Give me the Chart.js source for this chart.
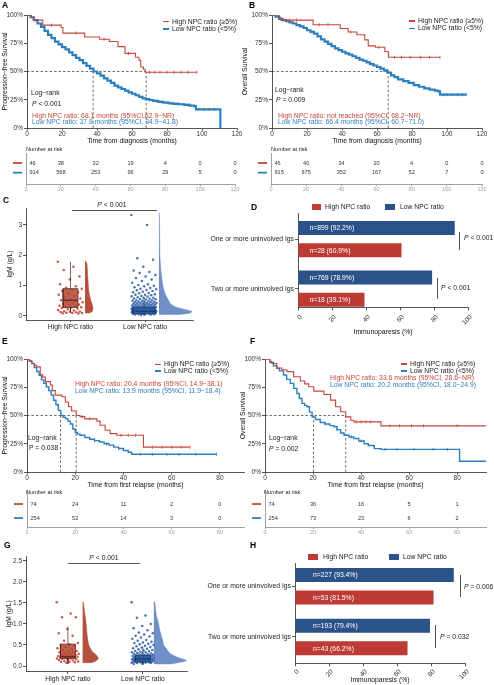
<!DOCTYPE html>
<html><head><meta charset="utf-8">
<script src="https://cdn.jsdelivr.net/npm/chart.js@4.4.1/dist/chart.umd.min.js"></script>
<style>
html,body{margin:0;padding:0;background:#fff;}
#wrap{position:relative;width:494px;height:685px;overflow:hidden;background:#fff;font-family:"Liberation Sans",Arial,Helvetica,sans-serif;}
#wrap canvas{position:absolute;left:0;top:0;}
.t{position:absolute;white-space:nowrap;line-height:1;transform:translateY(-50%);font-size:6.8px;color:#1a1a1a;z-index:5;}
.mk{position:absolute;z-index:5;}
</style></head><body><div id="wrap"></div>
<script>
// ================= DATA =================
// Panel A: PFS from diagnosis (time in months, survival fraction)
const kmA_high_t = [0, 2.5, 3.5, 9, 19.5, 20.5, 33, 41.5, 47, 52, 56, 62, 64, 65, 66.5, 67.5, 97];
const kmA_high_s = [1, 0.978, 0.955, 0.91, 0.89, 0.84, 0.805, 0.786, 0.766, 0.72, 0.66, 0.626, 0.60, 0.54, 0.52, 0.493, 0.493];
const kmA_high_cens = [14, 28, 44, 58, 70, 73, 76, 80, 84, 88, 92, 97];
const kmA_low_t = [0,2,4,6,8,10,12,14,16,18,20,22,24,26,28,30,32,34,36,38,40,42,44,46,48,50,52,54,56,58,60,62,64,66,68,70,72,75,78,81,84,87,90,93,95.5,96.5,110.5];
const kmA_low_s = [1,.98,.955,.925,.895,.86,.825,.795,.765,.74,.715,.695,.67,.645,.62,.60,.575,.55,.525,.50,.483,.463,.44,.42,.40,.375,.36,.345,.33,.315,.303,.29,.275,.263,.255,.248,.24,.232,.225,.218,.214,.21,.205,.198,.193,.165,0];
const kmA_low_cens = [70, 74, 77, 80, 83, 86, 89, 92, 98, 101, 104, 107];
const medA = [68.1, 37.8];
const riskA_high = [46, 38, 32, 19, 4, 0, 0];
const riskA_low = [914, 568, 253, 96, 29, 5, 0];

// Panel B: OS from diagnosis
const kmB_high_t = [0, 4, 5, 23.5, 39, 43.5, 48.5, 53, 55, 59, 64.5, 66.5, 96];
const kmB_high_s = [1, 0.98, 0.955, 0.914, 0.88, 0.85, 0.825, 0.78, 0.727, 0.715, 0.677, 0.626, 0.626];
const kmB_high_cens = [10, 14, 27, 32, 45, 61, 70, 74, 79, 85, 90, 96];
const kmB_low_t = [0,2,4,6,8,10,12,14,16,18,20,22,24,26,28,30,32,34,36,38,40,42,44,46,48,50,52,54,56,58,60,62,64,66,68,70,72,75,78,81,84,87,90,93,95,96,111];
const kmB_low_s = [1,.985,.965,.955,.945,.935,.925,.91,.90,.885,.865,.85,.835,.81,.785,.765,.745,.725,.705,.69,.675,.66,.65,.635,.62,.605,.595,.58,.565,.553,.54,.525,.51,.49,.465,.45,.43,.415,.40,.38,.365,.35,.34,.33,.325,.295,.295];
const kmB_low_cens = [98, 100, 103, 106, 109, 111];
const medB = [null, 66.4];
const riskB_high = [46, 40, 34, 20, 4, 0, 0];
const riskB_low = [915, 675, 352, 167, 52, 7, 0];

// Panel E: PFS from first relapse
const kmE_high_t = [0, 1, 2, 3, 4, 5.5, 6.5, 7.6, 9.7, 10.5, 11.7, 14.5, 15.9, 17.2, 18.5, 20.4, 22, 24, 29, 30.3, 32.4, 34.5, 37.2, 48.3, 67.6];
const kmE_high_s = [1, 0.985, 0.96, 0.945, 0.93, 0.86, 0.84, 0.80, 0.77, 0.72, 0.68, 0.666, 0.62, 0.577, 0.54, 0.50, 0.49, 0.47, 0.45, 0.414, 0.37, 0.34, 0.325, 0.22, 0.22];
const kmE_high_cens = [23, 26, 39, 42, 45, 52, 56, 60, 64, 67.6];
const kmE_low_t = [0,1,2,3,4,5,6,7,8,9,10,11,12,13,14,15,16,17,18,19,20,21,22,24,26,28,30,32,34,36,38,40,42,43.4,78.6];
const kmE_low_s = [1,.98,.96,.925,.89,.855,.815,.785,.755,.72,.68,.635,.595,.545,.50,.485,.47,.45,.425,.38,.35,.335,.325,.305,.29,.278,.265,.25,.238,.22,.208,.19,.175,.157,.157];
const kmE_low_cens = [28, 33, 38, 47, 52, 58, 63, 70, 78.6];
const medE = [20.4, 13.9];
const riskE_high = [74, 24, 11, 2, 0];
const riskE_low = [254, 52, 14, 3, 0];

// Panel F: OS from first relapse
const kmF_high_t = [0, 2, 2.8, 4.9, 7, 9.1, 11.9, 14.7, 16.5, 18.2, 20.3, 24.5, 27.3, 29.4, 31.5, 33.6, 35.7, 37, 48.3, 92];
const kmF_high_s = [1, 0.98, 0.96, 0.92, 0.905, 0.888, 0.843, 0.805, 0.78, 0.754, 0.716, 0.686, 0.636, 0.577, 0.533, 0.488, 0.458, 0.444, 0.408, 0.408];
const kmF_high_cens = [38, 40, 42, 44, 52, 56, 61, 66, 80];
const kmF_low_t = [0, 2, 3.5, 4.9, 6, 7.7, 9, 10.5, 12, 13.3, 14.3, 15.4, 16.5, 17.5, 18.5, 19.6, 21, 23, 25, 27, 28.7, 30, 31.5, 32.9, 35, 37, 39, 41.3, 43, 45.5, 48.3, 81, 92];
const kmF_low_s = [1, .97, .94, .917, .895, .858, .82, .784, .74, .695, .65, .607, .59, .577, .53, .488, .465, .438, .425, .41, .40, .375, .345, .325, .31, .296, .275, .25, .235, .207, .20, .095, .095];
const kmF_low_cens = [25, 30, 36, 40, 50, 55, 62, 70, 76];
const medF = [33.6, 20.2];
const riskF_high = [74, 36, 16, 5, 1];
const riskF_low = [254, 73, 23, 6, 2];

const kmYTicks = [0, 0.25, 0.5, 0.75, 1];
const ticksDiag = [0, 20, 40, 60, 80, 100, 120];
const ticksRel = [0, 20, 40, 60, 80];

// Panels C and G: IgM (g/L) per patient (subset), box stats [wlo,q1,med,q3,whi], density profile
const groupNames = ['High NPC ratio', 'Low NPC ratio'];
const cHigh = [1.79,1.62,1.52,1.3,1.2,1.05,0.98,0.93,0.9,0.86,0.82,0.78,0.74,0.7,0.66,0.62,0.58,0.55,0.52,0.5,0.48,0.45,0.42,0.4,0.38,0.36,0.34,0.32,0.3,0.29,0.28,0.26,0.24,0.22,0.2,0.18,0.16,0.15,0.14,0.13,0.12,0.11,0.1,0.1,0.09,0.08];
const cLow = [3.33,3.0,1.9,1.85,1.62,1.5,1.45,1.42,1.35,1.3,1.25,1.2,1.15,1.1,1.05,1.02,1.0,0.98,0.95,0.92,0.9,0.88,0.86,0.85,0.82,0.8,0.78,0.76,0.75,0.72,0.7,0.7,0.68,0.66,0.65,0.64,0.62,0.6,0.6,0.58,0.57,0.56,0.55,0.54,0.52,0.52,0.5,0.5,0.49,0.48,0.47,0.46,0.45,0.45,0.44,0.43,0.42,0.42,0.41,0.4,0.4,0.39,0.38,0.38,0.37,0.36,0.36,0.35,0.35,0.34,0.33,0.33,0.32,0.32,0.31,0.3,0.3,0.3,0.29,0.29,0.28,0.28,0.27,0.27,0.26,0.26,0.25,0.25,0.25,0.24,0.24,0.23,0.23,0.22,0.22,0.22,0.21,0.21,0.2,0.2,0.2,0.19,0.19,0.19,0.18,0.18,0.18,0.17,0.17,0.17,0.16,0.16,0.16,0.15,0.15,0.15,0.15,0.14,0.14,0.14,0.13,0.13,0.13,0.12,0.12,0.12,0.11,0.11,0.11,0.1,0.1,0.1,0.09,0.09,0.08,0.08,0.07,0.07,0.06,0.06,0.05,0.05,0.04,0.03];
const cHighBox = [0.1, 0.28, 0.52, 0.9, 1.79];
const cLowBox = [0.02, 0.08, 0.16, 0.28, 0.6];
const cHighVy = [0.1,0.15,0.25,0.35,0.5,0.7,0.9,1.1,1.3,1.5,1.7,1.8];
const cHighVw = [0.55,0.9,1,0.95,0.75,0.55,0.45,0.4,0.35,0.3,0.25,0.12];
const cLowVy = [0.05,0.1,0.15,0.2,0.3,0.4,0.5,0.7,1.0,1.5,2.0,3.0,3.4];
const cLowVw = [0.6,0.95,1,0.85,0.5,0.35,0.3,0.2,0.12,0.06,0.03,0.02,0.01];
const cYTicks = [0, 1, 2, 3];

const gHigh = [1.52,1.25,1.16,1.16,0.88,0.78,0.72,0.6,0.55,0.52,0.5,0.48,0.45,0.42,0.4,0.38,0.36,0.35,0.33,0.32,0.3,0.29,0.28,0.27,0.26,0.25,0.24,0.23,0.22,0.22,0.21,0.2,0.2,0.19,0.18,0.18,0.17,0.16,0.15,0.14,0.13,0.12,0.11,0.1,0.1,0.09,0.08];
const gLow = [1.52,1.2,1.15,1.0,0.95,0.9,0.85,0.8,0.78,0.75,0.72,0.7,0.68,0.65,0.62,0.6,0.58,0.56,0.55,0.53,0.52,0.5,0.48,0.47,0.45,0.44,0.42,0.41,0.4,0.38,0.37,0.36,0.35,0.34,0.33,0.32,0.31,0.3,0.3,0.29,0.28,0.28,0.27,0.26,0.26,0.25,0.25,0.24,0.24,0.23,0.23,0.22,0.22,0.21,0.21,0.2,0.2,0.2,0.19,0.19,0.18,0.18,0.18,0.17,0.17,0.17,0.16,0.16,0.16,0.15,0.15,0.15,0.14,0.14,0.14,0.13,0.13,0.13,0.12,0.12,0.12,0.11,0.11,0.11,0.1,0.1,0.1,0.09,0.09,0.08,0.08,0.07,0.07,0.06,0.05];
const gHighBox = [0.05, 0.18, 0.22, 0.52, 0.94];
const gLowBox = [0.03, 0.1, 0.17, 0.25, 0.45];
const gHighVy = [0.08,0.12,0.18,0.25,0.35,0.5,0.7,0.9,1.1,1.3,1.52];
const gHighVw = [0.55,0.85,1,0.9,0.6,0.4,0.3,0.25,0.2,0.12,0.05];
const gLowVy = [0.05,0.1,0.13,0.2,0.3,0.4,0.5,0.6,0.8,1.0,1.2,1.52];
const gLowVw = [0.5,0.9,1,0.75,0.5,0.4,0.3,0.28,0.2,0.15,0.08,0.03];
const gYTicks = [0, 0.5, 1, 1.5, 2, 2.5];

// Panels D and H: immunoparesis (%)
const barCats = ['One or more uninvolved Igs', 'Two or more uninvolved Igs'];
const barD_low = [92.2, 78.9];
const barD_high = [60.9, 39.1];
const barD_lowN = ['n=899 (92.2%)', 'n=769 (78.9%)'];
const barD_highN = ['n=28 (60.9%)', 'n=18 (39.1%)'];
const barH_low = [93.4, 79.4];
const barH_high = [81.5, 66.2];
const barH_lowN = ['n=227 (93.4%)', 'n=193 (79.4%)'];
const barH_highN = ['n=53 (81.5%)', 'n=43 (66.2%)'];
const pctTicks = [0, 20, 40, 60, 80, 100];

// ================= RENDER =================
const FONT = '"Liberation Sans", Arial, Helvetica, sans-serif';
const RED = '#C8453B', BLUE = '#2D7FBF', AX = '#2b2b2b';
const NAVY = '#2C5389', BRED = '#BE3A35';
Chart.defaults.font.family = FONT;
Chart.defaults.font.size = 6.8;
Chart.defaults.color = '#222';
Chart.defaults.animation = false;
Chart.defaults.responsive = false;
Chart.defaults.events = [];
Chart.defaults.plugins.legend.display = false;
Chart.defaults.plugins.tooltip.enabled = false;

const wrap = document.getElementById('wrap');
function mk(){ const c=document.createElement('canvas'); c.width=494; c.height=685; wrap.appendChild(c); return c; }
function pad(L,T,R,B,yw,xh){ return {left:L-yw, top:T, right:494-R, bottom:685-B-xh}; }
function deep(a,b){ for(const k in b){ const v=b[k]; if(v && typeof v==='object' && !Array.isArray(v) && a[k] && typeof a[k]==='object') deep(a[k],v); else a[k]=v; } return a; }
function ax(min,max,tv,fmt,sz,isX,title,extra){
  const a={type:'linear',min:min,max:max,offset:false,
    afterBuildTicks:s=>{ s.ticks=tv.map(v=>({value:v})); },
    afterFit:s=>{ if(isX) s.height=sz; else s.width=sz; },
    grid:{display:true,offset:false,drawOnChartArea:false,drawTicks:true,tickLength:3,color:AX,lineWidth:0.8},
    border:{display:true,color:AX,width:0.8},
    ticks:{font:{size:6.5,family:FONT},color:'#333',padding:1,maxRotation:0,minRotation:0,autoSkip:false,callback:fmt||(v=>String(v))},
    title:{display:!!title,text:title||'',font:{size:6.8,family:FONT},color:'#111',padding:{top:0,bottom:0}}
  };
  return deep(a,extra||{});
}
const pts=(t,s)=>t.map((v,i)=>({x:v,y:s[i]}));
function survAt(t,s,x){ let y=s[0]; for(let i=0;i<t.length;i++){ if(t[i]<=x) y=s[i]; } return y; }

function km(c){
  const cv=mk(); const ds=[];
  const censDs=(g,col)=>({data:g.cens.map(x=>({x:x,y:survAt(g.t,g.s,x)})),showLine:false,pointStyle:'line',rotation:90,pointRadius:1.6,pointBorderWidth:0.8,pointBorderColor:col,borderColor:col,backgroundColor:col,clip:false});
  ds.push(censDs(c.high,RED)); ds.push(censDs(c.low,BLUE));
  ds.push({data:pts(c.high.t,c.high.s),showLine:true,stepped:'before',borderColor:RED,borderWidth:1.1,pointRadius:0,fill:false});
  ds.push({data:pts(c.low.t,c.low.s),showLine:true,stepped:'before',borderColor:BLUE,borderWidth:c.lw,pointRadius:0,fill:false});
  const meds=c.med.filter(m=>m!=null); const mx=Math.max.apply(null,meds);
  const dash=()=>({showLine:true,borderColor:'#333',borderWidth:0.7,borderDash:[2.5,2],pointRadius:0,fill:false});
  ds.push(Object.assign(dash(),{data:[{x:0,y:0.5},{x:mx,y:0.5}]}));
  meds.forEach(m=>ds.push(Object.assign(dash(),{data:[{x:m,y:0.5},{x:m,y:0}]})));
  new Chart(cv,{type:'scatter',data:{datasets:ds},options:{
    layout:{padding:pad(c.L,c.T,c.R,c.B,c.yw,c.xh)},
    scales:{
      x:ax(0,c.xmax,c.xticks,null,c.xh,true,c.xtitle,{grid:{tickLength:2.5},ticks:{padding:0}}),
      y:ax(0,1,kmYTicks,v=>Math.round(v*100)+'%',c.yw,false,c.ytitle)
    }}});
}

const riskPlugin={id:'risk',afterDraw(chart,a,o){
  const ctx=chart.ctx, xs=chart.scales.x, ys=chart.scales.y;
  ctx.save(); ctx.font='5.6px '+FONT; ctx.textBaseline='middle';
  o.rows.forEach((row,r)=>{
    const y=ys.getPixelForValue(r+1);
    ctx.fillStyle='#333';
    row.forEach((v,i)=>{ const x=xs.getPixelForValue(o.times[i]);
      if(i===0){ ctx.textAlign='left'; ctx.fillText(String(v),x+3.5,y); } else { ctx.textAlign='center'; ctx.fillText(String(v),x,y); } });
    ctx.strokeStyle=o.colors[r]; ctx.lineWidth=1.8; ctx.beginPath();
    ctx.moveTo(chart.chartArea.left-13,y); ctx.lineTo(chart.chartArea.left-4,y); ctx.stroke();
  });
  ctx.restore();
}};
function risk(c){
  const cv=mk();
  new Chart(cv,{type:'scatter',data:{datasets:[]},plugins:[riskPlugin],options:{
    layout:{padding:pad(c.L,c.T,c.R,c.B,0,c.xh)},
    scales:{
      x:ax(0,c.xmax,c.xticks,null,c.xh,true,null,{grid:{color:'#8a8a8a',tickLength:2},border:{color:'#8a8a8a'},ticks:{color:'#a0a0a0',font:{size:5.5},padding:0}}),
      y:{type:'linear',min:0,max:c.ymax,reverse:true,afterFit:s=>{s.width=0;},ticks:{display:false},grid:{display:false,drawTicks:false},border:{display:true,color:'#8a8a8a',width:0.8}}
    },
    plugins:{risk:{rows:[c.high,c.low],times:c.xticks,colors:[RED,BLUE]}}
  }});
}

function rain(c){
  const cv=mk(); const top=[], mid=[], bot=[];
  c.groups.forEach((g,gi)=>{
    const cx=gi+1+(g.dx||0); const b=g.box; const hw=g.bw;
    top.push({data:[{x:cx-hw,y:b[2]},{x:cx+hw,y:b[2]}],showLine:true,borderColor:g.line,borderWidth:1,pointRadius:0});
    top.push({data:[{x:cx,y:b[3]},{x:cx,y:b[4]}],showLine:true,borderColor:g.line,borderWidth:0.7,pointRadius:0});
    top.push({data:[{x:cx,y:b[1]},{x:cx,y:b[0]}],showLine:true,borderColor:g.line,borderWidth:0.7,pointRadius:0});
    const rect=[{x:cx-hw,y:b[1]},{x:cx+hw,y:b[1]},{x:cx+hw,y:b[3]},{x:cx-hw,y:b[3]},{x:cx-hw,y:b[1]}];
    top.push({data:rect,showLine:true,borderColor:g.line,borderWidth:0.6,pointRadius:0,fill:false});
    mid.push({data:g.pts.map((v,i)=>({x:cx+(((i*0.6180339887)%1)-0.5)*2*g.jw,y:v})),showLine:false,pointRadius:1.25,pointBorderWidth:0,backgroundColor:g.pcol,borderColor:g.pcol});
    bot.push({data:rect.slice(0,4),showLine:true,fill:'shape',backgroundColor:g.bcol,borderColor:g.bcol,borderWidth:0.5,pointRadius:0});
    const base=cx+g.vb; const n=g.vy.length;
    const poly=[{x:base,y:g.vy[0]}].concat(g.vy.map((y,i)=>({x:base+g.vw[i]*g.vmax,y:y}))).concat([{x:base,y:g.vy[n-1]}]);
    bot.push({data:poly,showLine:true,fill:'shape',tension:0.2,backgroundColor:g.vcol,borderColor:g.vcol,borderWidth:0.5,pointRadius:0});
  });
  new Chart(cv,{type:'scatter',data:{datasets:top.concat(mid,bot)},options:{
    layout:{padding:pad(c.L,c.T,c.R,c.B,c.yw,c.xh)},
    scales:{
      x:ax(c.xmin,c.xmax,[1,2],v=>groupNames[Math.round(v)-1],c.xh,true,null,{grid:{tickLength:c.xtl},ticks:{font:{size:6.8},color:'#222',padding:1}}),
      y:ax(c.ymin,c.ymax,c.yticks,c.yfmt,c.yw,false,'IgM (g/L)',{ticks:{font:{size:6.5}}})
    }}});
}

const barLabelPlugin={id:'barLabels',afterDatasetsDraw(chart,a,o){
  const ctx=chart.ctx; ctx.save(); ctx.font='6.8px '+FONT; ctx.fillStyle='#fff'; ctx.textBaseline='middle'; ctx.textAlign='left';
  o.labels.forEach((labs,di)=>{ chart.getDatasetMeta(di).data.forEach((bar,i)=>{ ctx.fillText(labs[i],bar.base+o.offset,bar.y+0.5); }); });
  ctx.restore();
}};
function bars(c){
  const cv=mk();
  new Chart(cv,{type:'bar',data:{datasets:[
    {data:c.low.map((v,i)=>({x:v,y:i+1})),backgroundColor:NAVY,categoryPercentage:c.cp,barPercentage:c.bp},
    {data:c.high.map((v,i)=>({x:v,y:i+1})),backgroundColor:BRED,categoryPercentage:c.cp,barPercentage:c.bp}
  ]},plugins:[barLabelPlugin],options:{indexAxis:'y',
    layout:{padding:pad(c.L,c.T,c.R,c.B,c.yw,c.xh)},
    scales:{
      x:ax(0,100,pctTicks,null,c.xh,true,'Immunoparesis (%)',{ticks:{maxRotation:45,minRotation:45,labelOffset:3,padding:c.xpad}}),
      y:ax(c.ymin,c.ymax,[1,2],v=>barCats[Math.round(v)-1],c.yw,false,null,{reverse:true,ticks:{font:{size:6.8},color:'#222',padding:1}})
    },
    plugins:{barLabels:{labels:[c.lowN,c.highN],offset:c.off}}
  }});
}

// ---- build charts ----
km({L:27,T:15,R:237,B:128,yw:26,xh:17,xmax:120,xticks:ticksDiag,xtitle:'Time from diagnosis (months)',ytitle:'Progression\u2212free Survival',lw:2.2,
  high:{t:kmA_high_t,s:kmA_high_s,cens:kmA_high_cens},low:{t:kmA_low_t,s:kmA_low_s,cens:kmA_low_cens},med:medA});
km({L:272,T:15,R:482,B:128,yw:31,xh:17,xmax:120,xticks:ticksDiag,xtitle:'Time from diagnosis (months)',ytitle:'Overall Survival',lw:2.2,
  high:{t:kmB_high_t,s:kmB_high_s,cens:kmB_high_cens},low:{t:kmB_low_t,s:kmB_low_s,cens:kmB_low_cens},med:medB});
km({L:27,T:359,R:244,B:472,yw:26,xh:17,xmax:90,xticks:ticksRel,xtitle:'Time from first relapse (months)',ytitle:'Progression\u2212free Survival',lw:1.4,
  high:{t:kmE_high_t,s:kmE_high_s,cens:kmE_high_cens},low:{t:kmE_low_t,s:kmE_low_s,cens:kmE_low_cens},med:medE});
km({L:265,T:359,R:486,B:472,yw:26,xh:17,xmax:92,xticks:ticksRel,xtitle:'Time from first relapse (months)',ytitle:'Overall Survival',lw:1.4,
  high:{t:kmF_high_t,s:kmF_high_s,cens:kmF_high_cens},low:{t:kmF_low_t,s:kmF_low_s,cens:kmF_low_cens},med:medF});

risk({L:26,T:153.3,R:235,B:184.3,xh:8,xmax:120,xticks:ticksDiag,ymax:3.2,high:riskA_high,low:riskA_low});
risk({L:271,T:153.3,R:482,B:184.3,xh:8,xmax:120,xticks:ticksDiag,ymax:3.2,high:riskB_high,low:riskB_low});
risk({L:27,T:490,R:244,B:527,xh:8,xmax:90,xticks:ticksRel,ymax:2.64,high:riskE_high,low:riskE_low});
risk({L:265,T:490,R:486,B:527,xh:8,xmax:92,xticks:ticksRel,ymax:2.64,high:riskF_high,low:riskF_low});

rain({L:26,T:208,R:193,B:320,yw:20,xh:12,xtl:2,ymin:-0.132,ymax:3.56,yticks:cYTicks,yfmt:v=>String(v),xmin:0.403,xmax:2.644,groups:[
  {pts:cHigh,box:cHighBox,bw:0.1,jw:0.17,vb:0.195,vmax:0.107,vy:cHighVy,vw:cHighVw,line:'#4a2018',pcol:'rgba(192,60,45,0.85)',bcol:'rgba(180,81,61,0.9)',vcol:'#B4513D'},
  {pts:cLow,box:cLowBox,dx:-0.013,bw:0.15,jw:0.17,vb:0.2,vmax:0.443,vy:cLowVy,vw:cLowVw,line:'#1d3557',pcol:'rgba(40,92,165,0.85)',bcol:'rgba(62,108,173,0.9)',vcol:'#6F8FC6'}
]});
rain({L:26,T:556.7,R:187,B:671,yw:20.5,xh:13,xtl:3,ymin:-0.119,ymax:2.602,yticks:gYTicks,yfmt:v=>v.toFixed(1),xmin:0.44,xmax:2.59,groups:[
  {pts:gHigh,box:gHighBox,bw:0.1,jw:0.15,vb:0.196,vmax:0.21,vy:gHighVy,vw:gHighVw,line:'#4a2018',pcol:'rgba(192,60,45,0.85)',bcol:'rgba(180,81,61,0.9)',vcol:'#B4513D'},
  {pts:gLow,box:gLowBox,bw:0.1,jw:0.15,vb:0.147,vmax:0.435,vy:gLowVy,vw:gLowVw,line:'#1d3557',pcol:'rgba(40,92,165,0.85)',bcol:'rgba(62,108,173,0.9)',vcol:'#6F8FC6'}
]});

bars({L:298,T:213.3,R:468,B:307.3,yw:90,xh:29.2,xpad:3,ymin:0.477,ymax:2.376,cp:0.9,bp:0.628,off:11,low:barD_low,high:barD_high,lowN:barD_lowN,highN:barD_highN});
bars({L:295,T:563.3,R:465,B:663.3,yw:90,xh:21.2,xpad:1.5,ymin:0.549,ymax:2.518,cp:0.886,bp:0.62,off:17.5,low:barH_low,high:barH_high,lowN:barH_lowN,highN:barH_highN});

// ---- text & annotation overlays ----
function T(x,y,s,o){ o=o||{}; const d=document.createElement('div'); d.className='t'; d.innerHTML=s; d.style.left=x+'px'; d.style.top=y+'px';
  if(o.c) d.style.color=o.c; if(o.fs) d.style.fontSize=o.fs+'px'; if(o.b) d.style.fontWeight='bold'; if(o.center) d.style.transform='translate(-50%,-50%)'; wrap.appendChild(d); }
function R(x,y,w,h,col){ const d=document.createElement('div'); d.className='mk'; d.style.left=x+'px'; d.style.top=y+'px'; d.style.width=w+'px'; d.style.height=h+'px'; d.style.background=col; wrap.appendChild(d); }

// panel letters
[['A',2,5],['B',249,5],['C',3,200],['D',251,207],['E',2,341],['F',250,341],['G',4,545],['H',250,545]].forEach(p=>T(p[1],p[2],p[0],{b:true,fs:8.5,c:'#000'}));

// KM legends
function kmLeg(x,y1,y2){ R(x,y1-0.6,6,1.2,RED); R(x,y2-0.6,6,1.2,BLUE); T(x+9,y1,'High NPC ratio (\u22655%)'); T(x+9,y2,'Low NPC ratio (&lt;5%)'); }
kmLeg(163,21.7,29); kmLeg(409,21,28.3); kmLeg(155,364.3,371); kmLeg(401,364,371);

// A
T(31,93.3,'Log\u2212rank'); T(32,104.3,'<i>P</i> &lt; 0.001');
T(32,116,'High NPC ratio: 68.1 months (95%CI,62.9\u2212NR)',{c:RED});
T(32,122.3,'Low NPC ratio: 37.8 months (95%CI, 34.9\u221241.8)',{c:BLUE});
T(26,150,'Number at risk',{fs:5.6});
// B
T(275,90,'Log\u2212rank'); T(276,100,'<i>P</i> = 0.009');
T(278,115.7,'High NPC ratio: not reached (95%CI, 68.2\u2212NR)',{c:RED});
T(278,122,'Low NPC ratio: 66.4 months (95%CI, 60.7\u221271.0)',{c:BLUE});
T(271,150,'Number at risk',{fs:5.6});
// E
T(75,384.3,'High NPC ratio: 20.4 months (95%CI, 14.9\u221238.1)',{c:RED});
T(75,391,'Low NPC ratio: 13.9 months (95%CI, 11.9\u221218.4)',{c:BLUE});
T(28,438.3,'Log\u2212rank'); T(29,448.3,'P = 0.038');
T(26,493,'Number at risk',{fs:5.6});
// F
T(330,377.7,'High NPC ratio: 33.6 months (95%CI, 28.6\u2212NR)',{c:RED});
T(330,385,'Low NPC ratio: 20.2 months (95%CI, 18.0\u221224.9)',{c:BLUE});
T(269,438,'Log\u2212rank'); T(269,449,'<i>P</i> = 0.002');
T(264,493,'Number at risk',{fs:5.6});
// C & G brackets
R(72,209.6,85,0.8,'#555'); T(112,205,'<i>P</i> &lt; 0.001',{center:true});
R(68,562.6,72,0.8,'#555'); T(104,558,'<i>P</i> &lt; 0.001',{center:true});
// D legend + brackets
R(312,204.3,9,6,BRED); T(325,207.3,'High NPC ratio'); R(385,204.3,10,6,NAVY); T(400,207.3,'Low NPC ratio');
R(458.6,232,0.8,18,'#555'); T(464,238.3,'<i>P</i> &lt; 0.001');
R(436.6,278,0.8,21,'#555'); T(441,288,'<i>P</i> &lt; 0.001');
// H legend + brackets
R(308,554.3,10,5.5,BRED); T(323,557,'High NPC ratio'); R(389,554.3,10,5.5,NAVY); T(403,557,'Low NPC ratio');
R(459.6,575,0.8,22,'#555'); T(464,587,'<i>P</i> = 0.006');
R(434.6,625,0.8,23,'#555'); T(440,637,'<i>P</i> = 0.032');
</script></body></html>
